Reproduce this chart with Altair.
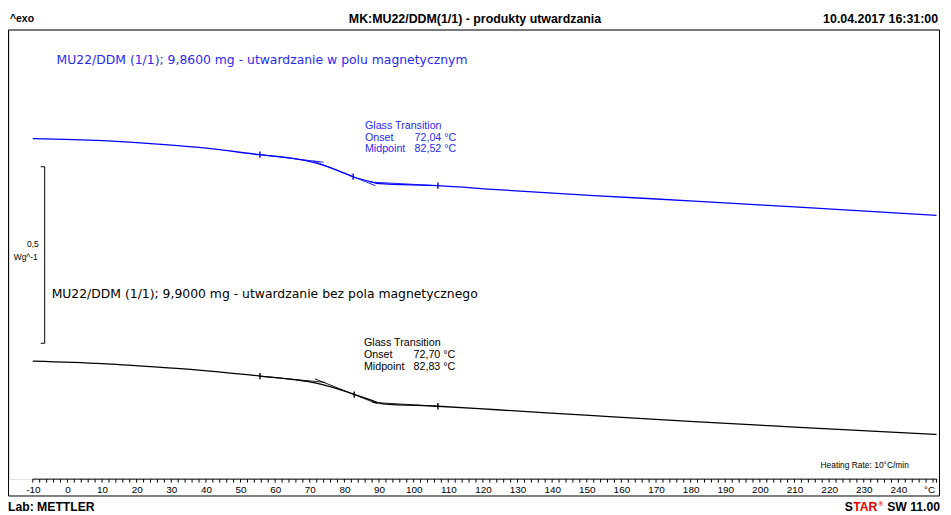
import altair as alt
import pandas as pd

# ---------------- data ----------------
# temperature in °C, heat flow in W/g (arbitrary vertical offsets; hidden y axis)
T_blue = [-10, 10, 24, 38, 55.6, 66, 71, 74, 78, 82.5, 87.5, 90, 107, 124, 152, 181, 210, 251]
HF_blue = [0.9649, 0.9593, 0.9508, 0.9396, 0.9191, 0.9073, 0.8975, 0.8890, 0.8750, 0.8567,
           0.8427, 0.8371, 0.8315, 0.8202, 0.8034, 0.7879, 0.7711, 0.7472]

T_black = [-10, 10, 24, 38, 55.6, 66, 71.5, 74, 78, 83, 87.5, 91, 107, 124, 152, 181, 210, 251]
HF_black = [0.3343, 0.3272, 0.3188, 0.3090, 0.2921, 0.2809, 0.2725, 0.2669, 0.2556, 0.2396,
            0.2247, 0.2135, 0.2065, 0.1966, 0.1798, 0.1629, 0.1475, 0.1264]

# glass-transition evaluation: limits / midpoint markers
GT_blue_T = [55.6, 82.52, 107]
GT_blue_HF = [0.9191, 0.8567, 0.8315]
GT_black_T = [55.6, 82.83, 107]
GT_black_HF = [0.2921, 0.2396, 0.2065]

# construction lines (baseline before, inflection tangent, baseline after)
seg_names = ["b1", "b1", "tan", "tan", "b2", "b2"]
seg_blue_T = [55.6, 74.0, 71.0, 89.0, 87.5, 107]
seg_blue_HF = [0.9191, 0.8978, 0.9017, 0.8312, 0.8415, 0.8315]
seg_black_T = [55.6, 74.5, 71.5, 89.5, 88, 107]
seg_black_HF = [0.2921, 0.2740, 0.2840, 0.2135, 0.2175, 0.2065]

tick_labels = list(range(-10, 250, 10))
minor_ticks = list(range(-10, 252, 2)) + [251]
axis_span = [-10, 251]

scale_bar = [0.885, 0.385]  # 0,5 W/g

BLUE = "#0000ff"
TXT_BLUE = "#2a2aee"

# ---------------- tables ----------------
curves = pd.DataFrame({
    "T": T_blue + T_black,
    "v": HF_blue + HF_black,
    "s": ["blue"] * len(T_blue) + ["black"] * len(T_black),
})
marks = pd.DataFrame({
    "T": GT_blue_T + GT_black_T,
    "v": GT_blue_HF + GT_black_HF,
    "s": ["blue"] * 3 + ["black"] * 3,
})
segs = pd.DataFrame({
    "T": seg_blue_T + seg_black_T,
    "v": seg_blue_HF + seg_black_HF,
    "s": ["blue"] * 6 + ["black"] * 6,
    "g": [("blue" + n) for n in seg_names] + [("black" + n) for n in seg_names],
})
ticks = pd.DataFrame({"T": minor_ticks})
axline = pd.DataFrame({"T": [axis_span[0]], "T1": [axis_span[1]]})
sbar = pd.DataFrame({"top": [scale_bar[0]], "bot": [scale_bar[1]]})

xscale = alt.Scale(domain=[-16.873, 251.74], nice=False, zero=False)
yscale = alt.Scale(domain=[0, 1.27247], nice=False, zero=False)
color = alt.Color("s:N", scale=alt.Scale(domain=["blue", "black"], range=[BLUE, "#000000"]), legend=None)

xaxis = alt.Axis(
    values=tick_labels, title=None, domain=False, ticks=False, grid=False,
    labelPadding=5, labelFontSize=10, labelFont="Liberation Sans", labelColor="#000",
    labelFlush=False, labelOverlap=False, labelExpr="'' + datum.value")
X = alt.X("T:Q", scale=xscale, axis=xaxis)
Y = alt.Y("v:Q", scale=yscale, axis=None)

line = alt.Chart(curves).mark_line(strokeWidth=1.3, interpolate="monotone").encode(
    x=X, y=Y, color=color, detail="s:N")

seg_layer = alt.Chart(segs).mark_line(strokeWidth=0.9).encode(
    x=X, y=Y, color=color, detail="g:N")

mark_layer = alt.Chart(marks).mark_point(
    shape="M0,-1L0,1", size=40, strokeWidth=1.4, filled=False, opacity=1).encode(
    x=X, y=Y, color=color)

tick_layer = alt.Chart(ticks).mark_rule(color="black", strokeWidth=1).encode(
    x=X, y=alt.value(453), y2=alt.value(456.5))

axis_layer = alt.Chart(axline).mark_rule(color="black", strokeWidth=1).encode(
    x=X, x2="T1:Q", y=alt.value(453))

bar_v = alt.Chart(sbar).mark_rule(color="black", strokeWidth=1).encode(
    x=alt.value(36), y=alt.Y("top:Q", scale=yscale, axis=None), y2="bot:Q")
bar_t = alt.Chart(sbar).mark_rule(color="black", strokeWidth=1).encode(
    x=alt.value(32), x2=alt.value(36), y=alt.Y("top:Q", scale=yscale, axis=None))
bar_b = alt.Chart(sbar).mark_rule(color="black", strokeWidth=1).encode(
    x=alt.value(32), x2=alt.value(36), y=alt.Y("bot:Q", scale=yscale, axis=None))

frame = alt.Chart(axline).mark_rect(fill=None, stroke="black", strokeWidth=1).encode(
    x=alt.value(-0.5), x2=alt.value(938.5), y=alt.value(0), y2=alt.value(470))


def txt(s, x, y, size=10, color="black", align="left", font="Liberation Sans", weight="normal"):
    return alt.Chart(axline).mark_text(
        text=s, align=align, baseline="middle", fontSize=size, color=color,
        font=font, fontWeight=weight).encode(x=alt.value(x), y=alt.value(y))


GT = 10.8
texts = [
    txt("^exo", 1, -11, 10.5, weight="bold"),
    txt("MK:MU22/DDM(1/1)  - produkty utwardzania", 470, -11, 12.5, align="center", weight="bold"),
    txt("10.04.2017 16:31:00", 937, -11, 12.5, align="right", weight="bold"),
    txt("Lab: METTLER", -1, 481, 12.3, weight="bold"),
    txt("S", 843, 481, 12.3, weight="bold"),
    txt("TAR", 851.5, 481, 12.3, color="#e00000", weight="bold"),
    txt("®", 877, 478, 6, color="#e00000", weight="bold"),
    txt("SW 11.00", 939, 481, 12.3, align="right", weight="bold"),
    txt("°C", 934, 464, 10, align="right"),
    txt("MU22/DDM (1/1); 9,8600 mg - utwardzanie w polu magnetycznym", 48, 30, 12.5,
        color=TXT_BLUE, font="DejaVu Sans"),
    txt("MU22/DDM (1/1); 9,9000 mg - utwardzanie bez pola magnetycznego", 43, 266, 12.5,
        font="DejaVu Sans"),
    txt("Glass Transition", 359, 97, GT, color=TXT_BLUE),
    txt("Onset", 359, 108.5, GT, color=TXT_BLUE),
    txt("72,04 °C", 409, 108.5, GT, color=TXT_BLUE),
    txt("Midpoint", 359, 120, GT, color=TXT_BLUE),
    txt("82,52 °C", 409, 120, GT, color=TXT_BLUE),
    txt("Glass Transition", 358, 316, GT),
    txt("Onset", 358, 328, GT),
    txt("72,70 °C", 408, 328, GT),
    txt("Midpoint", 358, 339.5, GT),
    txt("82,83 °C", 408, 339.5, GT),
    txt("0,5", 30, 216, 8.5, align="right"),
    txt("Wg^-1", 29, 229, 8.5, align="right"),
    txt("Heating Rate: 10°C/min", 863, 439, 8.5, align="center"),
]

chart = alt.layer(
    frame, axis_layer, tick_layer, line, seg_layer, mark_layer, bar_v, bar_t, bar_b, *texts
).properties(
    width=938, height=453,
    padding={"left": 1, "top": 20, "right": 4, "bottom": 34},
    autosize="none",
).configure_view(stroke=None).configure(background="white")

chart.save("out.html", embed_options={"renderer": "svg", "actions": False})
